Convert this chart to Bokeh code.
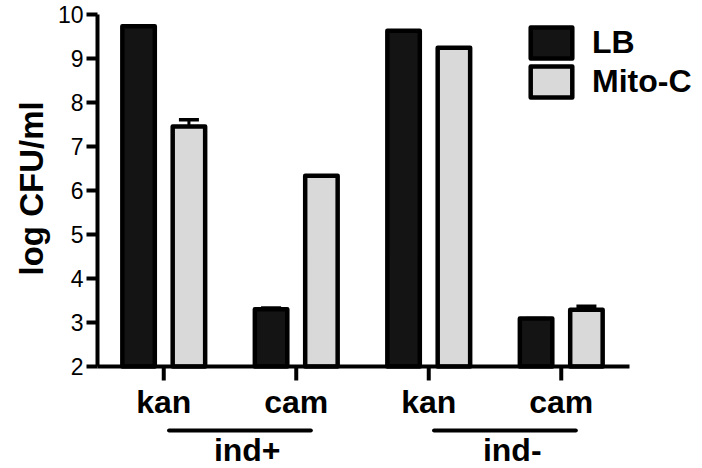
from bokeh.plotting import figure
from bokeh.models import (Range1d, FixedTicker, ColumnDataSource, Whisker, TeeHead,
                          Legend, LegendItem, Title)
from bokeh.core.properties import value
from bokeh.embed import file_html
from bokeh.resources import INLINE
import numpy as np

# ---- data ----
antibiotics = ["kan", "cam", "kan", "cam"]
groups = ["ind+", "ind-"]
lb_values = [9.74, 3.30, 9.64, 3.09]
mito_values = [7.46, 6.34, 9.25, 3.29]
lb_errors = [0.0, 0.03, 0.0, 0.0]
mito_errors = [0.15, 0.0, 0.0, 0.08]
series_names = ["LB", "Mito-C"]
y_ticks = [2, 3, 4, 5, 6, 7, 8, 9, 10]
y_label = "log CFU/ml"

# ---- layout constants (pixels) ----
FONT = "Liberation Sans"
W, H = 702, 468
LEFT = 97            # frame left edge (y axis line)
PX_X = 132.5         # px per category unit
PX_Y = 43.96         # px per log unit
Y_TOP_PX = 14.3      # pixel row of y = 10
Y_BASE = 2.0
Y_MAX = 10.0
BOLD = "32px"

x_end = (W - LEFT) / PX_X
y_end = Y_MAX + Y_TOP_PX / PX_Y
y_base_px = Y_TOP_PX + (Y_MAX - Y_BASE) * PX_Y
y_start = Y_BASE - (H - y_base_px) / PX_Y


def below(px):
    """data y for a row `px` pixels under the x axis line"""
    return Y_BASE - px / PX_Y


pos = np.arange(len(antibiotics)) + 0.5
off = 0.19
bw = 0.245

p = figure(width=W, height=H, output_backend="svg", toolbar_location=None,
           x_range=Range1d(0, x_end), y_range=Range1d(y_start, y_end),
           min_border_left=LEFT, min_border_right=0, min_border_top=0,
           min_border_bottom=0, x_axis_location=None)
p.outline_line_color = None
p.xgrid.visible = False
p.ygrid.visible = False
p.background_fill_color = "white"
p.border_fill_color = "white"

src = ColumnDataSource(dict(
    x_lb=pos - off, x_mito=pos + off,
    lb=lb_values, mito=mito_values,
    lb_up=np.array(lb_values) + np.array(lb_errors),
    mito_up=np.array(mito_values) + np.array(mito_errors),
))

r_lb = p.vbar(x="x_lb", top="lb", bottom=Y_BASE, width=bw, source=src,
              fill_color="#141414", line_color="black", line_width=4.5, line_join="round")
r_mito = p.vbar(x="x_mito", top="mito", bottom=Y_BASE, width=bw, source=src,
                fill_color="#d9d9d9", line_color="black", line_width=4.5, line_join="round")

for xcol, lo, up in (("x_lb", "lb", "lb_up"), ("x_mito", "mito", "mito_up")):
    w = Whisker(base=xcol, lower=lo, upper=up, source=src, line_width=3,
                line_color="black", lower_head=None,
                upper_head=TeeHead(size=20, line_width=3.5, line_color="black"))
    p.add_layout(w)

# y axis (real axis)
yax = p.yaxis[0]
yax.ticker = FixedTicker(ticks=y_ticks)
yax.bounds = (Y_BASE, Y_MAX)
yax.axis_line_width = 4
yax.major_tick_line_width = 4
yax.major_tick_out = 11
yax.major_tick_in = 0
yax.minor_tick_line_color = None
yax.major_label_text_font = FONT
yax.major_label_text_font_size = "23px"
yax.major_label_text_color = "black"
yax.major_label_standoff = 3

# y axis title, centred on the 2..10 span of the axis
p.add_layout(Title(text=y_label, align="left", offset=H - 275, vertical_align="middle",
                   text_font=FONT, text_font_style="bold", text_font_size="33px",
                   text_color="black", standoff=8), "left")

# x axis line, ticks and category labels
p.segment(x0=[0], x1=[len(antibiotics)], y0=[Y_BASE], y1=[Y_BASE],
          line_width=4, line_color="black", line_cap="square")
p.segment(x0=pos, x1=pos, y0=Y_BASE, y1=below(14), line_width=4, line_color="black")
p.text(x=pos, y=below(36), text=antibiotics, text_font=value(FONT),
       text_font_style="bold", text_font_size=BOLD, text_align="center",
       text_baseline="alphabetic", text_color="black")

# group underline and labels
g_first = pos[0::2]
g_last = pos[1::2]
g_mid = (g_first + g_last) / 2
p.segment(x0=g_first + 0.04, x1=g_last + 0.11, y0=below(64), y1=below(64),
          line_width=4, line_color="black", line_cap="round")
p.text(x=g_mid + 0.13, y=below(84), text=groups, text_font=value(FONT),
       text_font_style="bold", text_font_size=BOLD, text_align="center",
       text_baseline="alphabetic", text_color="black")

legend = Legend(items=[LegendItem(label=series_names[0], renderers=[r_lb]),
                       LegendItem(label=series_names[1], renderers=[r_mito])],
                location=(428, 367), padding=0, spacing=0, margin=0,
                glyph_width=52, glyph_height=39, label_standoff=15,
                label_text_font=FONT, label_text_font_style="bold",
                label_text_font_size=BOLD, label_text_color="black",
                border_line_color=None, background_fill_alpha=0)
p.add_layout(legend)

open("out.html", "w").write(file_html(p, INLINE))
